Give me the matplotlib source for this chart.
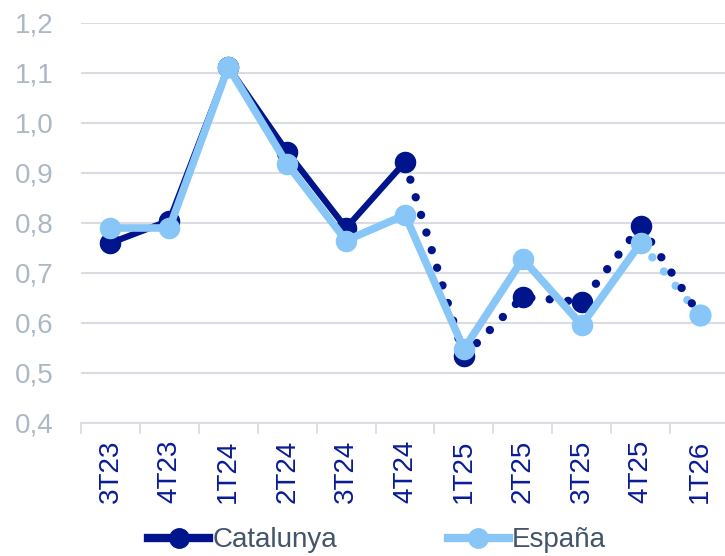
import matplotlib
matplotlib.use("Agg")
import matplotlib.pyplot as plt
from matplotlib.lines import Line2D

plt.rcParams['font.family'] = ['Liberation Sans', 'DejaVu Sans']

# datos
trimestres = ["3T23", "4T23", "1T24", "2T24", "3T24", "4T24",
              "1T25", "2T25", "3T25", "4T25", "1T26"]
catalunya = [0.76, 0.805, 1.112, 0.942, 0.79, 0.922,
             0.534, 0.652, 0.642, 0.794, 0.616]
espana = [0.79, 0.79, 1.112, 0.918, 0.765, 0.816,
          0.548, 0.728, 0.596, 0.76, 0.616]
cat_ultimo_real = 5   # 4T24: a partir de aquí previsión (punteado)
esp_ultimo_real = 9   # 4T25

azul_osc = "#00148C"
azul_cla = "#88C6F8"

fig = plt.figure(figsize=(7.25, 5.56), dpi=100)
ax = fig.add_axes([81 / 725, 1 - 423 / 556, 648 / 725, 400 / 556])

x = list(range(len(trimestres)))

# punteado (previsión)
ax.plot(x[esp_ultimo_real:], espana[esp_ultimo_real:], color=azul_cla, lw=6,
        dashes=(0.01, 2.2), dash_capstyle="round", zorder=2)
ax.plot(x[cat_ultimo_real:], catalunya[cat_ultimo_real:], color=azul_osc, lw=6,
        dashes=(0.01, 2.2), dash_capstyle="round", zorder=3,
        marker="o", ms=14.5, markevery=list(range(1, len(x) - cat_ultimo_real - 1)))

# continuo
ax.plot(x[:cat_ultimo_real + 1], catalunya[:cat_ultimo_real + 1], color=azul_osc,
        lw=4.5, marker="o", ms=14.5, solid_joinstyle="round", zorder=4)
ax.plot(x[:esp_ultimo_real + 1], espana[:esp_ultimo_real + 1], color=azul_cla,
        lw=5.5, marker="o", ms=14.5, solid_joinstyle="round", zorder=5)
ax.plot(x[-1:], espana[-1:], color=azul_cla, marker="o", ms=15, ls="none", zorder=5)

ax.set_xlim(-0.5, len(x) - 0.5)
ax.set_ylim(0.4, 1.2)
ax.set_yticks([0.4, 0.5, 0.6, 0.7, 0.8, 0.9, 1.0, 1.1, 1.2])
ax.set_yticklabels([f"{v:.1f}".replace(".", ",") for v in ax.get_yticks()],
                   fontsize=20, color="#ADB8C5")
ax.set_xticks(x)
ax.set_xticklabels(trimestres, rotation=90, fontsize=20, color="#0A1C96")
ax.set_xticks([i - 0.5 for i in range(len(x) + 1)], minor=True)
ax.tick_params(axis="x", which="major", length=0, pad=12)
ax.tick_params(axis="x", which="minor", length=8, width=1.3, color="#D9DDE3")
ax.tick_params(axis="y", length=0, pad=20)

ax.grid(axis="y", color="#D9DDE3", lw=1.5)
ax.set_axisbelow(True)
for s in ["top", "right", "left"]:
    ax.spines[s].set_visible(False)
ax.spines["bottom"].set_color("#D9DDE3")
ax.spines["bottom"].set_linewidth(1.5)

handles = [Line2D([], [], color=azul_osc, lw=6, marker="o", ms=14),
           Line2D([], [], color=azul_cla, lw=6, marker="o", ms=14)]
leg = fig.legend(handles, ["Catalunya", "España"], loc="center",
                 bbox_to_anchor=(0.52, 0.028), ncol=2, frameon=False,
                 fontsize=20, handlelength=2.2, handletextpad=0.1,
                 columnspacing=4.0)
for t in leg.get_texts():
    t.set_color("#44546A")

fig.savefig("out.png", dpi=100)
